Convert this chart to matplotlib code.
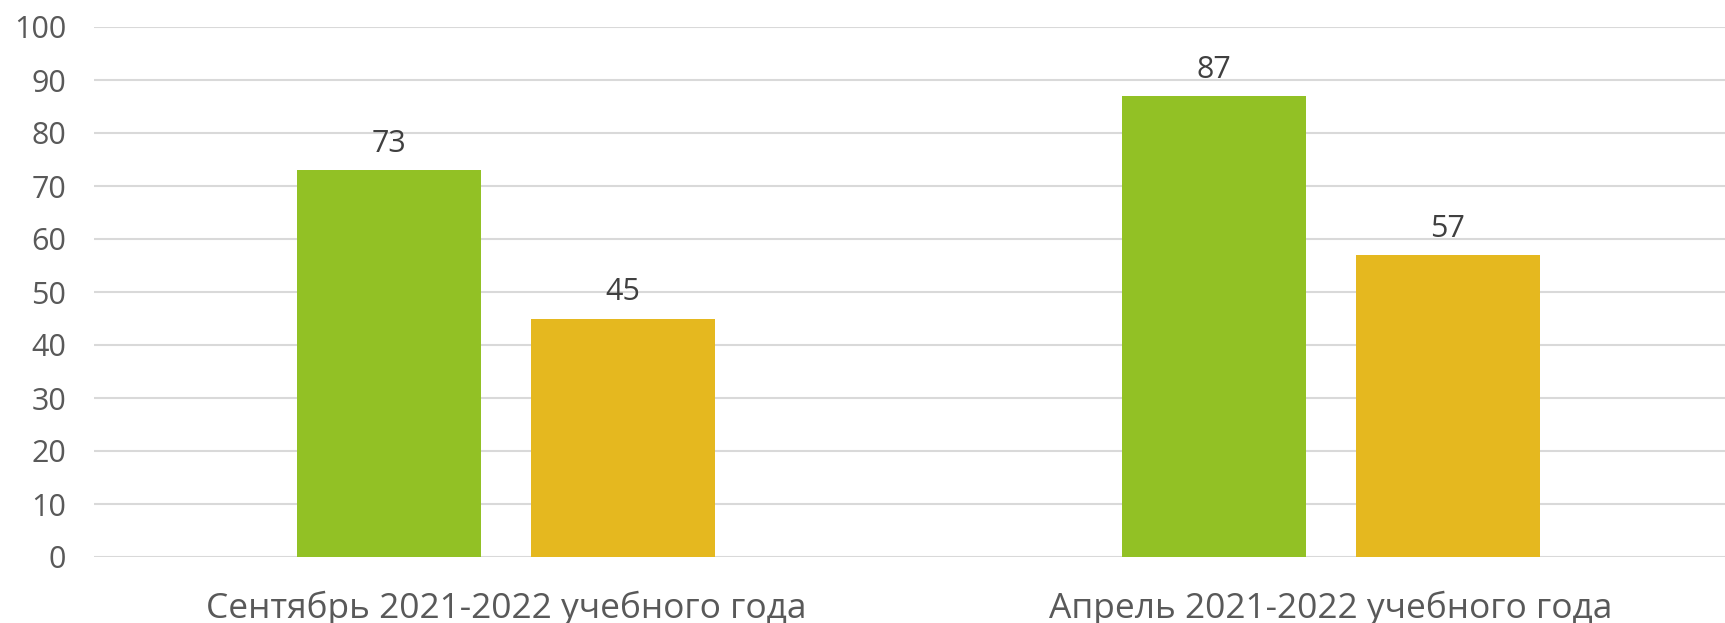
import matplotlib.pyplot as plt
import numpy as np

plt.rcParams['font.family'] = ['Open Sans', 'DejaVu Sans']

categories = ['Сентябрь 2021-2022 учебного года', 'Апрель 2021-2022 учебного года']
green_vals = [73, 87]
yellow_vals = [45, 57]
yticks = [0, 10, 20, 30, 40, 50, 60, 70, 80, 90, 100]

fig = plt.figure(figsize=(17.25, 6.23), dpi=100)
ax = fig.add_axes([94 / 1725, 1 - 557 / 623, (1743 - 94) / 1725, (557 - 27) / 623])

x = np.arange(len(categories))
w = 0.223
off = 0.142
b1 = ax.bar(x - off, green_vals, w, color='#92c125', zorder=3)
b2 = ax.bar(x + off, yellow_vals, w, color='#e5b81f', zorder=3)

for bars in (b1, b2):
    for b in bars:
        ax.annotate(str(int(b.get_height())), (b.get_x() + b.get_width() / 2, b.get_height()),
                    xytext=(0, 8), textcoords='offset points', ha='center', va='bottom',
                    fontsize=22, color='#404040')

ax.set_xlim(-0.5, 1.5)
ax.set_ylim(0, 100)
ax.set_yticks(yticks)
ax.set_xticks(x)
ax.set_xticklabels(categories, fontsize=25.5, color='#595959')
ax.tick_params(axis='y', labelsize=22, labelcolor='#595959', length=0, pad=20)
ax.tick_params(axis='x', length=0, pad=24)
ax.grid(axis='y', color='#d9d9d9', linewidth=1.5, zorder=0)
for s in ax.spines.values():
    s.set_visible(False)

fig.savefig('out.png', dpi=100)
